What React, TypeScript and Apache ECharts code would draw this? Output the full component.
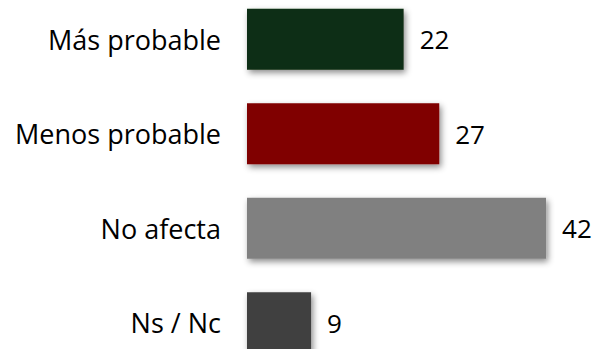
import React, { useEffect, useRef } from "react";
import * as echarts from "echarts";

const categories = ["Más probable", "Menos probable", "No afecta", "Ns / Nc"];
const values = [22, 27, 42, 9];
const colors = ["#0c2e16", "#800000", "#808080", "#404040"];

export default function App() {
  const ref = useRef<HTMLDivElement>(null);
  useEffect(() => {
    if (!ref.current) return;
    const chart = echarts.init(ref.current, null, { renderer: "svg" });
    const font = "'Open Sans', sans-serif";
    chart.setOption({
      animation: false,
      grid: { left: 247, right: 26.6, top: 0, bottom: 0, containLabel: false },
      xAxis: {
        type: "value",
        min: 0,
        max: 45,
        show: false,
      },
      yAxis: {
        type: "category",
        data: categories,
        inverse: true,
        axisLine: { show: false },
        axisTick: { show: false },
        splitLine: { show: false },
        axisLabel: { color: "#000", fontSize: 27, fontFamily: font, margin: 26 },
      },
      series: [
        {
          type: "bar",
          barWidth: 61,
          data: values.map((v, i) => ({
            value: v,
            itemStyle: {
              color: colors[i],
              shadowColor: "rgba(0,0,0,0.45)",
              shadowBlur: 6,
              shadowOffsetX: 2,
              shadowOffsetY: 3,
            },
          })),
          label: {
            show: true,
            position: "right",
            distance: 16,
            color: "#000",
            fontSize: 26,
            fontFamily: font,
          },
        },
      ],
    });
    return () => chart.dispose();
  }, []);
  return (
    <div style={{ position: "fixed", left: 0, top: 0, width: 594, height: 349, overflow: "hidden", background: "#fff" }}>
      <div ref={ref} style={{ position: "absolute", left: 0, top: -8, width: 594, height: 378 }} />
    </div>
  );
}
